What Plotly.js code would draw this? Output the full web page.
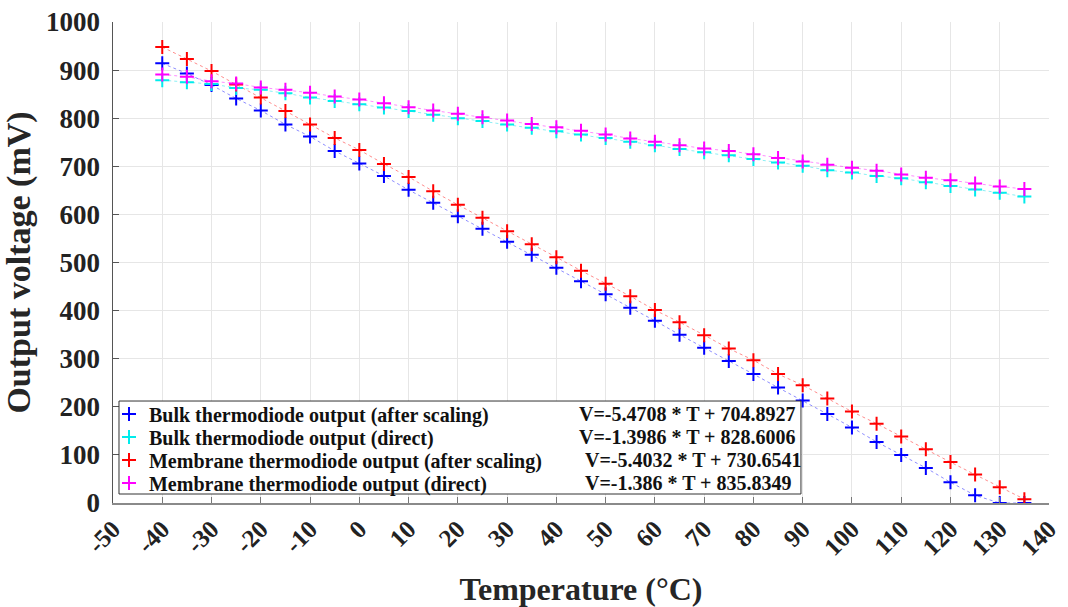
<!DOCTYPE html>
<html>
<head>
<meta charset="utf-8">
<script src="https://cdn.plot.ly/plotly-3.0.1.min.js"></script>
<style>html,body{margin:0;padding:0;background:#fff;}#chart{width:1068px;height:607px;}</style>
</head>
<body>
<div id="chart"></div>
<script>
// Temperatures (°C)
const temps = [-40, -35, -30, -25, -20, -15, -10, -5, 0, 5, 10, 15, 20, 25, 30, 35, 40, 45,
               50, 55, 60, 65, 70, 75, 80, 85, 90, 95, 100, 105, 110, 115, 120, 125, 130, 135];

// Output voltages (mV)
const bulkScaled = [914, 893, 869, 841, 816, 787, 762, 732, 706, 680, 651, 624, 596, 570, 543, 516, 489, 461,
                    434, 406, 379, 350, 323, 295, 268, 240, 213, 185, 157, 127, 100, 73, 43, 16, 0, 0];
const bulkDirect = [879, 875, 871, 863, 859, 852, 843, 836, 829, 822, 815, 807, 800, 794, 787, 780, 773, 766,
                    759, 751, 744, 736, 729, 723, 715, 708, 701, 692, 687, 680, 675, 667, 659, 652, 645, 637];
const membraneScaled = [948, 923, 898, 870, 843, 815, 787, 759, 734, 705, 678, 648, 620, 593, 565, 538, 511, 483,
                        456, 430, 401, 376, 349, 321, 297, 268, 245, 217, 190, 165, 138, 112, 85, 59, 33, 8];
const membraneDirect = [891, 886, 877, 872, 864, 859, 853, 845, 839, 831, 823, 816, 809, 802, 795, 788, 781, 774,
                        766, 758, 751, 744, 737, 732, 725, 717, 710, 703, 697, 691, 683, 676, 671, 664, 658, 653];

const seriesNames = [
  'Bulk thermodiode output (after scaling)',
  'Bulk thermodiode output (direct)',
  'Membrane thermodiode output (after scaling)',
  'Membrane thermodiode output (direct)'
];
const fitLabels = [
  'V=-5.4708 * T + 704.8927',
  'V=-1.3986 * T + 828.6006',
  'V=-5.4032 * T + 730.6541',
  'V=-1.386 * T + 835.8349'
];
const xTicks = [-50, -40, -30, -20, -10, 0, 10, 20, 30, 40, 50, 60, 70, 80, 90, 100, 110, 120, 130, 140];
const yTicks = [0, 100, 200, 300, 400, 500, 600, 700, 800, 900, 1000];

const allSeries = [bulkScaled, bulkDirect, membraneScaled, membraneDirect];
const colors = ['#0000ff', '#00ecec', '#ff0000', '#ff00ff'];
const lineColors = ['rgba(0,0,255,0.45)', 'rgba(0,220,230,0.45)', 'rgba(255,0,0,0.45)', 'rgba(255,0,255,0.45)'];

const FONT = 'Liberation Serif, Times New Roman, serif';
const legendKeys = ['legend', 'legend2', 'legend3', 'legend4'];
const rowY = [0.185, 0.1372, 0.0894, 0.0416];

const traces = [];
allSeries.forEach((ys, i) => {
  traces.push({
    x: temps, y: ys, type: 'scatter', mode: 'lines', showlegend: false, hoverinfo: 'skip',
    line: {color: lineColors[i], width: 1, dash: 'dot'}
  });
});
allSeries.forEach((ys, i) => {
  traces.push({
    x: temps, y: ys, type: 'scatter', mode: 'markers', name: seriesNames[i],
    legend: legendKeys[i],
    marker: {symbol: 'cross-thin', size: 10, color: colors[i], line: {color: colors[i], width: 2}}
  });
});

const layout = {
  width: 1068, height: 607,
  margin: {l: 113, r: 19, t: 22, b: 104},
  paper_bgcolor: '#fff', plot_bgcolor: '#fff',
  font: {family: FONT, color: '#262626'},
  xaxis: {
    range: [-50, 140], tickmode: 'array', tickvals: xTicks, ticktext: xTicks.map(String),
    ticks: 'inside', ticklen: 6, tickcolor: '#777', tickwidth: 1,
    showline: true, linecolor: '#8a8a8a', linewidth: 1.5,
    showgrid: true, gridcolor: '#e6e6e6', gridwidth: 1, zeroline: false,
    tickangle: -45, tickfont: {family: FONT, size: 25, weight: 700, color: '#222'},
    title: {text: 'Temperature (°C)', font: {family: FONT, size: 32, weight: 700, color: '#262626'}, standoff: 18},
    automargin: false
  },
  yaxis: {
    range: [0, 1000], tickmode: 'array', tickvals: yTicks, ticktext: yTicks.map(String),
    ticks: 'inside', ticklen: 6, tickcolor: '#555', tickwidth: 1,
    showline: true, linecolor: '#555', linewidth: 1.5,
    showgrid: true, gridcolor: '#e6e6e6', gridwidth: 1, zeroline: false,
    tickfont: {family: FONT, size: 27, weight: 700, color: '#222'},
    ticklabelstandoff: 6,
    title: {text: 'Output voltage (mV)', font: {family: FONT, size: 34, weight: 700, color: '#262626'}, standoff: 5},
    automargin: false
  },
  shapes: [{
    type: 'rect', xref: 'paper', yref: 'paper', layer: 'above',
    x0: 0.0064, x1: 0.735, y0: 0.0187, y1: 0.212,
    line: {color: '#333', width: 1}, fillcolor: 'rgba(255,255,255,1)'
  }],
  annotations: fitLabels.map((t, i) => ({
    text: t, xref: 'paper', yref: 'paper', x: i < 2 ? 0.4957 : 0.5021, y: rowY[i],
    xanchor: 'left', yanchor: 'middle', showarrow: false,
    font: {family: FONT, size: 20, weight: 700, color: '#111'}
  }))
};
legendKeys.forEach((k, i) => {
  layout[k] = {
    x: -0.0043, y: rowY[i], xref: 'paper', yref: 'paper', xanchor: 'left', yanchor: 'middle',
    bgcolor: 'rgba(0,0,0,0)', borderwidth: 0,
    font: {family: FONT, size: 20, weight: 700, color: '#111'}
  };
});

Plotly.newPlot('chart', traces, layout, {displayModeBar: false, staticPlot: true});
</script>
</body>
</html>
